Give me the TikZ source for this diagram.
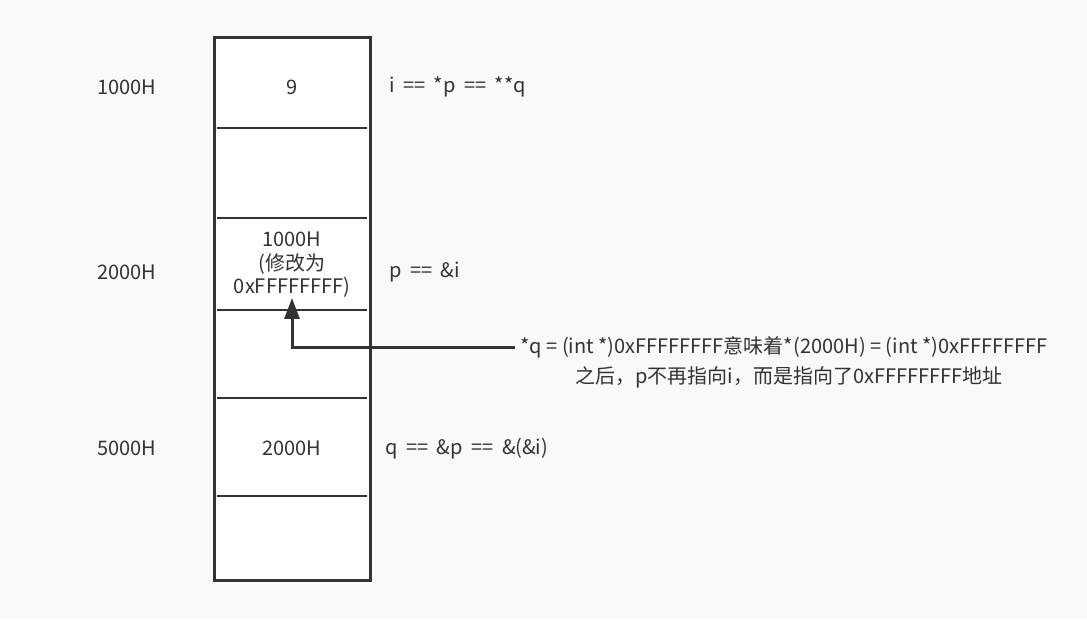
\documentclass[tikz,border=0pt]{standalone}
\usepackage{fontspec}
\setmainfont{Noto Sans CJK SC}
\usetikzlibrary{arrows.meta}
\definecolor{ink}{HTML}{333333}
\definecolor{paper}{HTML}{F9F9F9}
\newcommand\widesp{\spaceskip=8.5pt\relax}
\begin{document}
\begin{tikzpicture}[x=1pt,y=-1pt,font=\fontsize{20}{23.5}\selectfont,
        every node/.style={text=ink},
        sep/.style={ink,line width=2.5pt},
        eqn/.style={anchor=west,inner sep=0pt,execute at begin node=\widesp}]
        \def\xl{214} \def\xr{370}
        \def\yt{37} \def\yb{580}
        \fill[paper] (0,0) rectangle (1087,619);
        \useasboundingbox (0,0) rectangle (1087,619);

        \draw[ink,line width=3pt,fill=white] (\xl,\yt) rectangle (\xr,\yb);
        \foreach \y in {128,218,310,398,496}
            \draw[sep] (217,\y) -- (367,\y);

        \node (addri) at (127,87) {1000H};
        \node (addrp) at (127,272) {2000H};
        \node (addrq) at (127,448) {5000H};

        \node (celli) at (292,87) {9};
        \node (cellp) at (292,265) [align=center,inner sep=0pt] {1000H\\(修改为\\0xFFFFFFFF)};
        \node (cellq) at (292,448) {2000H};

        \node (eqi) at (389,87) [eqn] {i == *p == **q};
        \node (eqp) at (389,272) [eqn] {p == \&i};
        \node (eqq) at (385,449) [eqn] {q == \&p == \&(\&i)};

        \node (note) at (784,347) [inner sep=5pt] {*q = (int *)0xFFFFFFFF意味着*(2000H) = (int *)0xFFFFFFFF};
        \node (notetwo) at (789,377) {之后，p不再指向i，而是指向了0xFFFFFFFF地址};

        \draw[ink,line width=3pt,-{Triangle[length=21pt,width=15pt]}] (note.west) -| (cellp.south);
\end{tikzpicture}
\end{document}
